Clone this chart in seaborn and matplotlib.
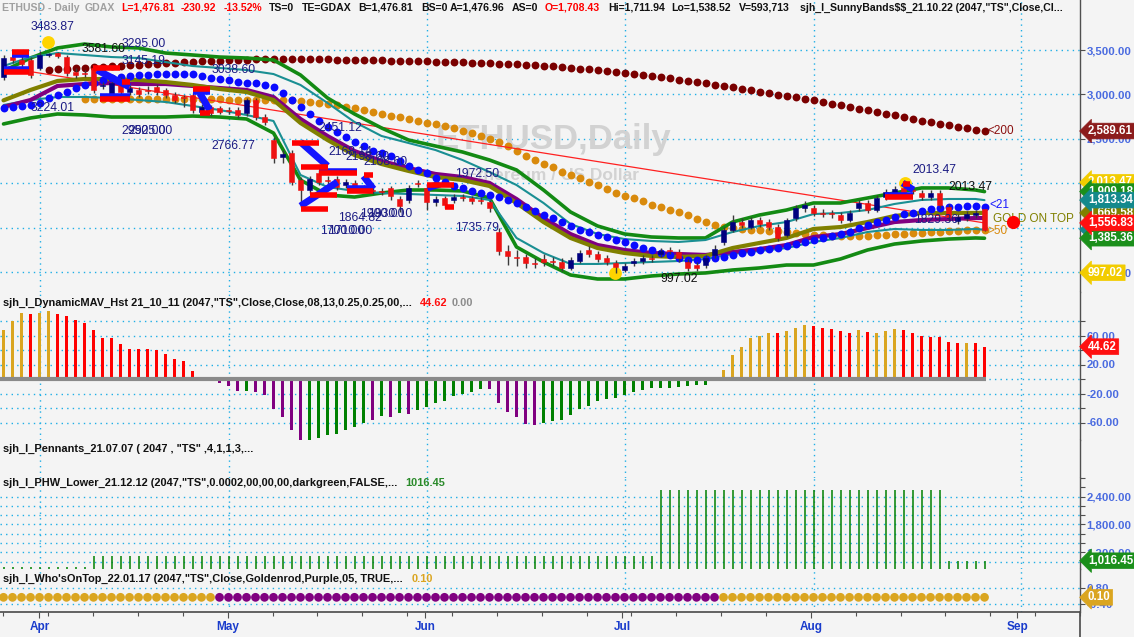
import numpy as np
import pandas as pd
import matplotlib
matplotlib.use("Agg")
import matplotlib.pyplot as plt
import matplotlib.transforms as mtransforms
import seaborn as sns

# ---------------------------------------------------------------- data
dates = pd.bdate_range("2022-03-28", periods=110)

opens = [3197, 3421, 3388, 3388, 3298, 3444, 3470, 3421, 3253, 3242,
         3298, 3096, 2961, 3163, 3028, 3051, 3051, 3084, 3051, 2994,
         2972, 2994, 2803, 2860, 2848, 2826, 2826, 2792, 2938, 2747,
         2489, 2298, 2343, 2039, 1927, 2118, 2039, 2051, 1983, 2006,
         1950, 1927, 1916, 1950, 1826, 1815, 2006, 1950, 1792, 1837,
         1815, 1848, 1837, 1815, 1792, 1455, 1242, 1174, 1174, 1107,
         1152, 1129, 1118, 1051, 1129, 1253, 1208, 1163, 1107, 1028,
         1107, 1129, 1163, 1208, 1253, 1230, 1118, 1084, 1084, 1197,
         1343, 1478, 1567, 1511, 1590, 1567, 1511, 1421, 1612, 1725,
         1725, 1669, 1669, 1646, 1590, 1725, 1781, 1702, 1848, 1893,
         1950, 1927, 1893, 1848, 1893, 1736, 1579, 1612, 1646, 1708]
closes = [3410, 3388, 3343, 3219, 3444, 3455, 3433, 3242, 3219, 3230,
          3051, 3107, 3129, 3028, 3073, 3006, 3039, 3028, 2994, 2938,
          2961, 2826, 2860, 2792, 2803, 2815, 2770, 2938, 2747, 2691,
          2287, 2331, 2017, 1927, 2051, 2017, 2028, 1961, 2017, 1950,
          1938, 1916, 1904, 1860, 1747, 1950, 1994, 1792, 1826, 1758,
          1848, 1837, 1803, 1803, 1725, 1242, 1185, 1163, 1107, 1096,
          1118, 1118, 1051, 1140, 1219, 1208, 1152, 1118, 1062, 1073,
          1129, 1163, 1152, 1242, 1242, 1163, 1051, 1051, 1163, 1264,
          1478, 1567, 1534, 1590, 1545, 1511, 1388, 1590, 1725, 1758,
          1669, 1657, 1657, 1590, 1669, 1781, 1702, 1837, 1904, 1938,
          1871, 1916, 1848, 1893, 1758, 1624, 1624, 1657, 1669, 1477]
highs = [3444, 3478, 3433, 3421, 3484, 3470, 3478, 3444, 3298, 3275,
         3320, 3140, 3163, 3197, 3107, 3084, 3096, 3118, 3073, 3028,
         2994, 3017, 2893, 2882, 2871, 2860, 2860, 2961, 2961, 2781,
         2522, 2376, 2376, 2073, 2084, 2152, 2084, 2084, 2051, 2039,
         1983, 1961, 1950, 1972, 1860, 1983, 2039, 1972, 1860, 1860,
         1882, 1882, 1860, 1848, 1815, 1500, 1309, 1253, 1208, 1163,
         1208, 1174, 1163, 1174, 1253, 1298, 1242, 1197, 1140, 1107,
         1163, 1197, 1197, 1275, 1287, 1264, 1152, 1118, 1197, 1309,
         1511, 1646, 1612, 1624, 1624, 1601, 1545, 1612, 1758, 1803,
         1758, 1714, 1702, 1680, 1702, 1815, 1815, 1871, 1938, 1972,
         2013, 1972, 1927, 1927, 1927, 1770, 1657, 1691, 1702, 1712]
lows = [3163, 3354, 3298, 3185, 3275, 3421, 3410, 3208, 3185, 3197,
        3017, 3062, 2938, 2994, 2994, 2972, 3006, 2994, 2961, 2905,
        2860, 2792, 2770, 2758, 2781, 2781, 2736, 2758, 2713, 2657,
        2230, 2230, 1983, 1736, 1893, 1983, 1972, 1927, 1950, 1916,
        1904, 1882, 1871, 1815, 1680, 1781, 1961, 1702, 1747, 1725,
        1781, 1803, 1770, 1770, 1680, 1197, 1084, 1073, 1051, 1051,
        1073, 1073, 1017, 1028, 1107, 1174, 1118, 1084, 997, 1006,
        1073, 1096, 1118, 1174, 1208, 1118, 1017, 1017, 1051, 1163,
        1309, 1455, 1500, 1489, 1511, 1478, 1354, 1399, 1579, 1680,
        1635, 1624, 1612, 1556, 1567, 1691, 1669, 1680, 1815, 1860,
        1837, 1882, 1815, 1815, 1725, 1579, 1545, 1579, 1612, 1470]

# band lines sampled every third bar
band_idx = [0, 3, 6, 9, 12, 15, 18, 21, 24, 27, 30, 33, 36, 39, 42, 45, 48, 51, 54,
            57, 60, 63, 66, 69, 72, 75, 78, 81, 84, 87, 90, 93, 96, 99, 102, 105, 108, 109]
upper_outer = [3264, 3410, 3523, 3567, 3534, 3523, 3466, 3444, 3421, 3410, 3388, 3219, 2961,
               2781, 2624, 2489, 2421, 2354, 2264, 2152, 1927, 1680, 1523, 1433, 1399, 1388,
               1388, 1567, 1646, 1702, 1781, 1781, 1837, 1893, 1950, 1950, 1927, 1909]
upper_inner = [3320, 3421, 3466, 3444, 3421, 3410, 3365, 3320, 3298, 3275, 3230, 3107, 2905,
               2691, 2534, 2455, 2376, 2264, 2129, 1983, 1781, 1545, 1433, 1376, 1354, 1343,
               1365, 1455, 1523, 1567, 1657, 1669, 1702, 1770, 1815, 1826, 1826, 1813]
lower_inner = [2882, 2938, 2972, 2972, 2961, 2938, 2916, 2871, 2826, 2770, 2702, 2096, 1961,
               1916, 1893, 1882, 1871, 1860, 1815, 1388, 1219, 1096, 1096, 1107, 1118, 1129,
               1152, 1208, 1242, 1275, 1343, 1388, 1455, 1489, 1478, 1478, 1489, 1481]
lower_outer = [2669, 2736, 2781, 2770, 2747, 2747, 2747, 2758, 2747, 2725, 2567, 2039, 1871,
               1848, 1893, 1927, 1927, 1916, 1837, 1287, 1118, 972, 927, 927, 961, 983,
               995, 1028, 1051, 1084, 1084, 1152, 1253, 1320, 1354, 1376, 1388, 1385]
olive_line = [2934, 3051, 3152, 3174, 3174, 3163, 3140, 3107, 3062, 3028, 2938, 2680, 2489,
              2320, 2219, 2141, 2073, 2039, 1972, 1781, 1567, 1388, 1275, 1219, 1185, 1174,
              1185, 1275, 1332, 1388, 1489, 1511, 1567, 1635, 1669, 1669, 1669, 1670]
purple_line = [2860, 2938, 3096, 3118, 3129, 3118, 3118, 3096, 3073, 3051, 2972, 2725, 2534,
               2365, 2253, 2174, 2107, 2073, 2006, 1826, 1612, 1432, 1309, 1253, 1219, 1208,
               1197, 1230, 1264, 1309, 1399, 1432, 1500, 1567, 1590, 1601, 1612, 1612]

ma21 = [2848, 2860, 2871, 2882, 2905, 2961, 2994, 3028, 3073, 3107,
        3129, 3163, 3185, 3197, 3208, 3219, 3219, 3230, 3230, 3230,
        3230, 3230, 3208, 3185, 3174, 3163, 3140, 3129, 3129, 3107,
        3084, 3017, 2938, 2860, 2781, 2702, 2635, 2579, 2522, 2466,
        2421, 2365, 2343, 2309, 2253, 2197, 2152, 2118, 2062, 2017,
        1972, 1950, 1916, 1893, 1871, 1848, 1815, 1781, 1736, 1691,
        1646, 1612, 1567, 1523, 1478, 1455, 1421, 1399, 1365, 1343,
        1309, 1275, 1253, 1219, 1197, 1163, 1140, 1140, 1152, 1163,
        1174, 1197, 1219, 1230, 1253, 1264, 1275, 1298, 1320, 1343,
        1365, 1388, 1410, 1432, 1455, 1500, 1534, 1567, 1590, 1624,
        1657, 1669, 1691, 1714, 1725, 1736, 1736, 1747, 1747, 1736]
ma50_start = 9
ma50 = [2955, 2955, 2952, 2952, 2950, 2950, 2950, 2948, 2948, 2948, 2946,
        2946, 2946, 2944, 2944, 2944, 2942, 2942, 2940, 2940, 2940, 2938,
        2936, 2934, 2927, 2916, 2905, 2893, 2882, 2860, 2848, 2826, 2803,
        2781, 2758, 2747, 2725, 2702, 2680, 2668, 2646, 2624, 2590, 2567,
        2534, 2500, 2466, 2421, 2365, 2309, 2264, 2219, 2185, 2129, 2096,
        2062, 2017, 1983, 1939, 1893, 1860, 1837, 1805, 1759, 1736, 1702,
        1680, 1646, 1601, 1567, 1534, 1511, 1500, 1489, 1478, 1478, 1466,
        1466, 1455, 1444, 1433, 1421, 1421, 1410, 1410, 1410, 1410, 1410,
        1421, 1421, 1433, 1433, 1444, 1444, 1455, 1455, 1466, 1466, 1478,
        1478, 1478]
ma200_start = 5
ma200 = [3275, 3287, 3287, 3298, 3298, 3309, 3309, 3320, 3320, 3331, 3331, 3343,
         3343, 3354, 3354, 3365, 3365, 3376, 3376, 3376, 3388, 3388, 3388, 3399,
         3399, 3399, 3399, 3399, 3399, 3399, 3399, 3399, 3388, 3388, 3388, 3388,
         3388, 3388, 3376, 3376, 3376, 3376, 3376, 3365, 3365, 3365, 3365, 3354,
         3354, 3354, 3343, 3343, 3343, 3331, 3331, 3320, 3320, 3309, 3298, 3287,
         3287, 3275, 3264, 3253, 3242, 3230, 3219, 3208, 3197, 3185, 3163, 3152,
         3140, 3129, 3107, 3096, 3084, 3062, 3051, 3028, 3017, 2994, 2983, 2972,
         2949, 2938, 2916, 2893, 2882, 2860, 2837, 2826, 2803, 2781, 2770, 2747,
         2725, 2702, 2691, 2668, 2657, 2635, 2624, 2601, 2590]

trend_idx = [0, 109]
trend_vals = [3305, 1557]

# pennant drawings: (start bar, end bar, price) and diagonals (x0, v0, x1, v1)
pennant_red = [(0.9, 2.8, 3478), (0.0, 2.8, 3253), (9.9, 12.9, 3298), (10.7, 14.0, 2949),
               (13.2, 14.0, 3140), (21.1, 22.9, 3062), (21.8, 22.9, 2792), (32.1, 35.0, 2455),
               (33.0, 36.1, 2186), (35.0, 39.3, 2118), (33.0, 36.1, 1714), (34.1, 37.1, 1871),
               (38.2, 41.1, 1916), (40.0, 41.1, 2096), (47.1, 50.0, 1983), (49.1, 50.0, 1736),
               (97.9, 101.1, 1848), (99.9, 100.7, 1994)]
pennant_blue = [(0.9, 2.8, 3444), (0.0, 2.8, 3287), (10.7, 14.0, 2983), (21.1, 22.9, 3028),
                (35.0, 39.3, 2141), (38.2, 41.1, 1950), (97.9, 101.1, 1871)]
pennant_diag = [(10.4, 3275, 14.0, 3084), (21.8, 3017, 22.9, 2826), (33.0, 2466, 36.0, 2197),
                (33.0, 1747, 37.1, 2017), (40.0, 2084, 41.1, 1938), (47.1, 1950, 48.5, 1994),
                (99.9, 2006, 101.1, 1927)]

price_labels = [("3483.87", 3.06, 3758, "n"), ("3581.60", 8.72, 3511, "k"),
                ("3295.00", 13.17, 3567, "n"), ("3145.19", 13.17, 3376, "n"),
                ("3038.60", 23.17, 3275, "n"), ("3224.01", 3.06, 2848, "n"),
                ("2950.00", 13.06, 2590, "n"), ("2925.00", 13.83, 2590, "n"),
                ("2766.77", 23.06, 2421, "n"), ("2451.12", 34.94, 2624, "n"),
                ("2168.14", 36.06, 2354, "n"), ("2198.60", 37.94, 2298, "n"),
                ("2108.60", 39.94, 2241, "n"), ("1972.50", 50.17, 2107, "n"),
                ("1864.82", 37.17, 1612, "n"), ("1900.00", 39.61, 1657, "n"),
                ("1930.10", 40.5, 1657, "n"), ("1700.00", 35.17, 1466, "n"),
                ("1710.00", 36.06, 1466, "n"), ("1735.79", 50.17, 1500, "n"),
                ("997.02", 72.94, 927, "k"), ("2013.47", 100.94, 2152, "n"),
                ("2013.47", 104.94, 1961, "k"), ("1829.36", 101.17, 1590, "n"),
                ("<21", 109.5, 1758, "b"), ("GOLD ON TOP", 109.94, 1601, "o"),
                (">50", 109.3, 1466, "d"), ("<200", 109.3, 2590, "m")]
sun_idx = [4.94, 67.94, 100.17]
sun_vals = [3590, 994, 2006]
gold_dot = (112.17, 1567)

main_tags = [(2589.61, "#8c1c1c"), (2013.47, "#f2cc00"), (1909.18, "#1b8f1b"),
             (1669.58, "#808000"), (1813.34, "#14898c"), (1481.20, "#14898c"),
             (1385.36, "#1b8f1b"), (1556.83, "#ff1010"), (997.02, "#f2cc00")]

hist_vals = [67, 80, 91, 90, 91, 94, 90, 87, 82, 77,
             68, 57, 56, 48, 41, 41, 41, 40, 35, 28,
             25, 11, 2.3, 1, -5, -10, -16, -16, -17.5, -22,
             -42, -53, -71, -84, -84, -81, -77, -76, -70, -66,
             -61, -56, -51, -52, -47, -48, -43, -38, -33, -30,
             -24, -20, -17.5, -14, -14, -33, -45, -53, -62, -64,
             -61, -57.5, -56, -49, -42, -37, -31, -27, -26, -22,
             -17.5, -15, -12, -12, -12, -10.6, -9, -8, -8, -3,
             12, 33, 44, 56, 60, 63, 63, 66, 71, 74,
             73, 71, 68.5, 66, 64, 67, 65, 64, 66, 68.5,
             67, 64, 60, 57.5, 57.5, 51, 50, 50, 50, 44.62]
hist_colors = ("yyy" "r" "yy" "rrrrrr" "rrrrrr" "rrrrrr" "ppp" "g" "pppppp" "ggggggg"
               "p" "g" "p" "g" "p" "gggggggg" "pppppp" "gggggggggg" "gggggggggg"
               "yyyyyy" "r" "yyy" "rrrrr" "y" "r" "yyy" "rrrrrrr" "y" "rr")

phw_vals = [880, 880, 880, 880, 880, 880, 880, 880, 880, 880,
            1120, 1120, 1120, 1120, 1120, 1120, 1120, 1120, 1120, 1120,
            1120, 1120, 1120, 1120, 1120, 1120, 1120, 1120, 1120, 1120,
            1120, 1120, 1120, 1120, 1120, 1120, 1120, 1120, 1120, 1120,
            1120, 1120, 1120, 1120, 1120, 1120, 1120, 1120, 1120, 1120,
            1120, 1120, 1120, 1120, 1120, 1120, 1120, 1120, 1120, 1120,
            1120, 1120, 1120, 1120, 1120, 1120, 1120, 1120, 1120, 1120,
            1120, 1120, 1120, 2540, 2540, 2540, 2540, 2540, 2540, 2540,
            2540, 2540, 2540, 2540, 2540, 2540, 2540, 2540, 2540, 2540,
            2540, 2540, 2540, 2540, 2540, 2540, 2540, 2540, 2540, 2540,
            2540, 2540, 2540, 2540, 2540, 1005, 1010, 1012, 1010, 1016.45]

whos_on_top = ("yyyyyyyyyy" "yyyyyyyyyy" "yyyy"
               "pppppppppp" "pppppppppp" "pppppppppp" "pppppppppp" "pppppppppp" "pppppp"
               "yyyyyyyyyy" "yyyyyyyyyy" "yyyyyyyyyy")
whos_value = 0.10

month_names = ["Apr", "May", "Jun", "Jul", "Aug", "Sep"]

# ---------------------------------------------------------------- style
sns.set_theme(style="white")
plt.rcParams["font.family"] = ["Liberation Sans", "DejaVu Sans"]

W, H = 1134, 637
AX_R = 1080
BG = "#f4f4f4"
GRID = "#1eaee6"
TICKBLUE = "#4a6be0"
SPINE = "#505050"
NAVY = "#1c1c84"
LBL = {"n": NAVY, "k": "#111111", "b": "#1a1aff", "o": "#808000", "d": "#d98a0c", "m": "#8b1010"}
HCOL = {"y": "#daa520", "r": "#ff0000", "p": "#800080", "g": "#008000"}
WCOL = {"y": "#daa520", "p": "#800080"}

fig = plt.figure(figsize=(W / 100, H / 100), dpi=100)
fig.patch.set_facecolor(BG)

n = len(opens)
idx = np.arange(n)
XMIN, XMAX = -3.5 / 9, (AX_R - 3.5) / 9

all_days = pd.bdate_range(dates[0], periods=125)
month_pos = [i for i in range(1, len(all_days)) if all_days[i].month != all_days[i - 1].month][:len(month_names)]
week_pos = [i for i, d in enumerate(all_days) if d.dayofweek == 0]

DOT = (0, (1, 3))


def make_ax(top, bottom):
    ax = fig.add_axes([0, 1 - bottom / H, AX_R / W, (bottom - top) / H])
    ax.set_facecolor(BG)
    for s in ("left", "top", "bottom"):
        ax.spines[s].set_visible(False)
    ax.spines["right"].set_color(SPINE)
    ax.spines["right"].set_linewidth(1.0)
    ax.set_xlim(XMIN, XMAX)
    ax.set_xticks([])
    ax.yaxis.set_ticks_position("right")
    ax.tick_params(axis="y", which="both", direction="out", length=3.6, width=0.8,
                   color=SPINE, labelcolor=TICKBLUE, labelsize=8.2, pad=1.2)
    for m in month_pos:
        ax.axvline(m, color=GRID, lw=1, ls=DOT, zorder=0.5)
    return ax


def grid_y(ax, vals):
    for v in vals:
        ax.axhline(v, color=GRID, lw=1, ls=DOT, zorder=0.5)


def right_ticks(ax, ticks, labeled):
    ax.set_yticks(ticks)
    ax.set_yticklabels([f"{t:,.2f}" if t in labeled else "" for t in ticks], fontweight="bold")


def tag(ax, value, color, fg="white"):
    tr = mtransforms.blended_transform_factory(ax.transAxes, ax.transData)
    ax.text(1088 / AX_R, value, f"{value:,.2f}", transform=tr, ha="left", va="center",
            fontsize=8.3, fontweight="bold", color=fg, clip_on=False, zorder=30,
            bbox=dict(boxstyle="larrow,pad=0.16", fc=color, ec=color, lw=0.5))


def ftext(x, y, s, color="#111111", size=7.9, weight="bold"):
    fig.text(x / W, 1 - y / H, s, ha="left", va="center", fontsize=size,
             fontweight=weight, color=color, zorder=40)


# ---------------------------------------------------------------- main panel
ax = make_ax(0, 292)
ax.set_ylim(4061.8 - 11.236 * 292, 4061.8)
grid_y(ax, [3500, 3000, 2500, 2000, 1500, 1000])
right_ticks(ax, [1000, 1500, 2000, 2500, 3000, 3500], [1000, 1500, 2000, 2500, 3000, 3500])

ax.text(553 / AX_R, 1 - 140 / 292, "ETHUSD,Daily", transform=ax.transAxes, ha="center",
        va="center", fontsize=25, fontweight="bold", color="#d2d2d2", zorder=0.6)
ax.text(553 / AX_R, 1 - 176 / 292, "Ethereum / US Dollar", transform=ax.transAxes,
        ha="center", va="center", fontsize=12.5, fontweight="bold", color="#d2d2d2", zorder=0.6)

sns.scatterplot(x=idx[ma200_start:], y=ma200, ax=ax, color="#7a0000", s=32, linewidth=0,
                zorder=2, legend=False)
sns.scatterplot(x=idx[ma50_start:], y=ma50, ax=ax, color="#d98a0c", s=32, linewidth=0,
                zorder=2, legend=False)
sns.lineplot(x=trend_idx, y=trend_vals, ax=ax, color="#ff2020", linewidth=0.9, zorder=2.2)
sns.lineplot(x=band_idx, y=upper_outer, ax=ax, color="#138a13", linewidth=2.6, zorder=3)
sns.lineplot(x=band_idx, y=lower_outer, ax=ax, color="#138a13", linewidth=2.6, zorder=3)
sns.lineplot(x=band_idx, y=upper_inner, ax=ax, color="#1a8f93", linewidth=1.5, zorder=3)
sns.lineplot(x=band_idx, y=lower_inner, ax=ax, color="#1a8f93", linewidth=1.5, zorder=3)
sns.lineplot(x=band_idx, y=purple_line, ax=ax, color="#800080", linewidth=3, zorder=3.1)
sns.lineplot(x=band_idx, y=olive_line, ax=ax, color="#808000", linewidth=3, zorder=3.2)
sns.scatterplot(x=idx, y=ma21, ax=ax, color="#0a0aff", s=32, linewidth=0, zorder=3.3, legend=False)

sns.scatterplot(x=sun_idx, y=sun_vals, ax=ax, color="#ffd400", s=85, linewidth=0, zorder=3.5,
                legend=False)

# candles
o = np.array(opens, float)
c = np.array(closes, float)
up = c >= o
body_col = np.where(up, "#00007f", "#ee1111")
ax.vlines(idx, lows, highs, color="#3a3a3a", lw=1, zorder=4)
ax.bar(idx, np.maximum(np.abs(c - o), 14), bottom=np.minimum(o, c), width=0.5,
       color=body_col, edgecolor=body_col, linewidth=0.4, zorder=5)

# pennants
for x0, x1, v in pennant_red:
    ax.hlines(v, x0, x1, color="#ff0000", lw=4, zorder=7)
for x0, x1, v in pennant_blue:
    ax.hlines(v, x0, x1, color="#1414ff", lw=4, zorder=6.9)
for x0, v0, x1, v1 in pennant_diag:
    ax.plot([x0, x1], [v0, v1], color="#1414ff", lw=5, solid_capstyle="butt", zorder=6.8)

for s, xi, v, col in price_labels:
    size = 8.5 if col in ("o", "d", "b", "m") else 8.7
    ax.text(xi, v, s, ha="left", va="center", fontsize=size, color=LBL[col], zorder=8,
            clip_on=False)

sns.scatterplot(x=[gold_dot[0]], y=[gold_dot[1]], ax=ax, color="#ff0000", s=90, linewidth=0,
                zorder=8, legend=False)

for v, col in main_tags:
    tag(ax, v, col)
ax.set_xlim(XMIN, XMAX)
ax.set_xlabel("")
ax.set_ylabel("")

# header
header = [(2, "ETHUSD - Daily", "#a0a0a0"), (85, "GDAX", "#a0a0a0"),
          (121, "L=1,476.81", "#ff0000"), (181, "-230.92", "#ff0000"), (224, "-13.52%", "#ff0000"),
          (269, "TS=0", "#111111"), (302, "TE=GDAX", "#111111"), (358, "B=1,476.81", "#111111"),
          (421, "BS=0", "#111111"), (450, "A=1,476.96", "#111111"), (512, "AS=0", "#111111"),
          (545, "O=1,708.43", "#ff0000"), (608, "Hi=1,711.94", "#111111"),
          (671, "Lo=1,538.52", "#111111"), (739, "V=593,713", "#111111"),
          (800, 'sjh_I_SunnyBands\\$\\$_21.10.22 (2047,"TS",Close,Cl...', "#111111")]
for x, s, col in header:
    ftext(x, 8, s, col, size=7.6)

# ---------------------------------------------------------------- histogram panel
hx = make_ax(292, 440)
hx.set_ylim(-(440 - 379) / 0.725, (379 - 292) / 0.725)
grid_y(hx, [80, 60, 40, 20, 0, -20, -40, -60])
right_ticks(hx, [80, 60, 40, 20, 0, -20, -40, -60], [60, 20, -20, -60])
hx.bar(idx, hist_vals, width=0.34, color=[HCOL[k] for k in hist_colors], linewidth=0, zorder=3)
hx.hlines(0, XMIN, idx[-1] + 0.2, color="#8a8a8a", lw=3, zorder=3.5)
tag(hx, hist_vals[-1], "#ff1010")
hx.set_xlim(XMIN, XMAX)
ftext(3, 303, 'sjh_I_DynamicMAV_Hst 21_10_11 (2047,"TS",Close,Close,08,13,0.25,0.25,00,...')
ftext(420, 303, "44.62", "#ff1010")
ftext(452, 303, "0.00", "#8c8c8c")

# ---------------------------------------------------------------- pennants panel (empty)
px = make_ax(440, 478)
px.set_ylim(0, 1)
px.set_yticks([])
ftext(3, 449, 'sjh_I_Pennants_21.07.07 ( 2047 , "TS" ,4,1,1,3,...')

# ---------------------------------------------------------------- PHW panel
wx = make_ax(478, 569)
wx.set_ylim(838, 2804)
phw_grid = [1000, 1200, 1400, 1600, 1800, 2000, 2200, 2400]
grid_y(wx, phw_grid)
right_ticks(wx, phw_grid + [2600, 2800], [1200, 1800, 2400])
wx.vlines(idx, 0, phw_vals, color="#008000", lw=1.1, zorder=3)
tag(wx, phw_vals[-1], "#1b8f1b")
wx.set_xlim(XMIN, XMAX)
ftext(3, 483, 'sjh_I_PHW_Lower_21.12.12 (2047,"TS",0.0002,00,00,00,darkgreen,FALSE,...')
ftext(405, 483, "1016.45", "#2a8a2a")

# ---------------------------------------------------------------- Who's on top panel
ox = make_ax(569, 612)
ox.set_ylim(-1.0, 2.225)
grid_y(ox, [0.8, -0.4])
right_ticks(ox, [0.8, -0.4], [0.8, -0.4])
wot = pd.DataFrame({"bar": idx, "val": [whos_value] * n, "who": list(whos_on_top[:n])})
sns.scatterplot(data=wot, x="bar", y="val", hue="who", palette=WCOL, s=40, linewidth=0,
                ax=ox, zorder=3, legend=False)
tag(ox, whos_value, "#daa520")
ox.set_xlim(XMIN, XMAX)
ox.set_xlabel("")
ox.set_ylabel("")
ftext(3, 579, "sjh_I_Who'sOnTop_22.01.17 (2047,\"TS\",Close,Goldenrod,Purple,05, TRUE,...")
ftext(412, 579, "0.10", "#daa520")

# ---------------------------------------------------------------- date axis
xax = fig.add_axes([0, 0, AX_R / W, 25 / H])
xax.set_facecolor(BG)
xax.set_xlim(XMIN, XMAX)
xax.set_ylim(0, 1)
for s in ("left", "bottom"):
    xax.spines[s].set_visible(False)
xax.spines["top"].set_color(SPINE)
xax.spines["right"].set_color(SPINE)
xax.set_yticks([])
xax.xaxis.set_ticks_position("top")
xax.set_xticks(month_pos)
xax.set_xticks(week_pos, minor=True)
xax.tick_params(axis="x", which="major", direction="in", length=4.5, width=0.8, color=SPINE,
                labeltop=False, labelbottom=False)
xax.tick_params(axis="x", which="minor", direction="in", length=3, width=0.8, color=SPINE)
for p, lab in zip(month_pos, month_names):
    xax.text(p, 0.4, lab, ha="center", va="center", fontsize=8.5, fontweight="bold",
             color="#1a3ccc")

fig.savefig("out.png", dpi=100, facecolor=BG)
